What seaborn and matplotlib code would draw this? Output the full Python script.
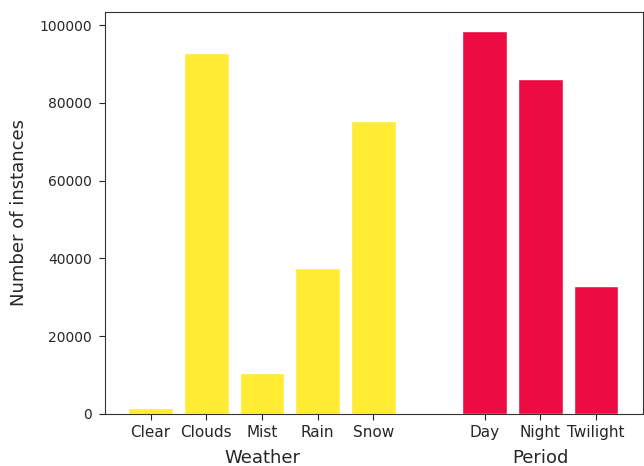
import matplotlib
matplotlib.use("Agg")
import matplotlib.pyplot as plt
import matplotlib.transforms as mtransforms
import seaborn as sns
import pandas as pd

weather_labels = ["Clear", "Clouds", "Mist", "Rain", "Snow"]
weather_counts = [1500, 92800, 10500, 37500, 75300]
period_labels = ["Day", "Night", "Twilight"]
period_counts = [98400, 86100, 32900]
group_names = ["Weather", "Period"]

weather_pos = list(range(len(weather_labels)))
period_pos = [len(weather_labels) + 1 + i for i in range(len(period_labels))]

df = pd.DataFrame({
    "pos": weather_pos + period_pos,
    "count": weather_counts + period_counts,
    "group": [group_names[0]] * len(weather_labels) + [group_names[1]] * len(period_labels),
})

sns.set_style("ticks")
plt.rcParams['font.family'] = ['DejaVu Sans']

fig = plt.figure(figsize=(6.44, 4.66), dpi=100)
ax = fig.add_axes([0.163, 0.112, 0.835, 0.862])

sns.barplot(data=df, x="pos", y="count", hue="group", native_scale=True, dodge=False,
            palette={"Weather": "#FFEC33", "Period": "#EC0C43"}, width=0.8,
            saturation=1, legend=False, ax=ax)

ax.set_xticks(weather_pos + period_pos)
ax.set_xticklabels(weather_labels + period_labels, fontsize=11)
ax.tick_params(axis="y", labelsize=10, length=4.5, pad=5)
ax.tick_params(axis="x", length=4, pad=4)
ax.set_xlabel("")
ax.set_ylabel("Number of instances", fontsize=13, labelpad=8)
ax.set_xlim(-0.82, 8.84)

trans = mtransforms.blended_transform_factory(ax.transData, fig.transFigure)
ax.text(sum(weather_pos) / len(weather_pos), 0.017, group_names[0], transform=trans,
        ha="center", va="center", fontsize=13)
ax.text(sum(period_pos) / len(period_pos), 0.017, group_names[1], transform=trans,
        ha="center", va="center", fontsize=13)

for s in ax.spines.values():
    s.set_color("#333333")

fig.savefig("out.png", dpi=100)
